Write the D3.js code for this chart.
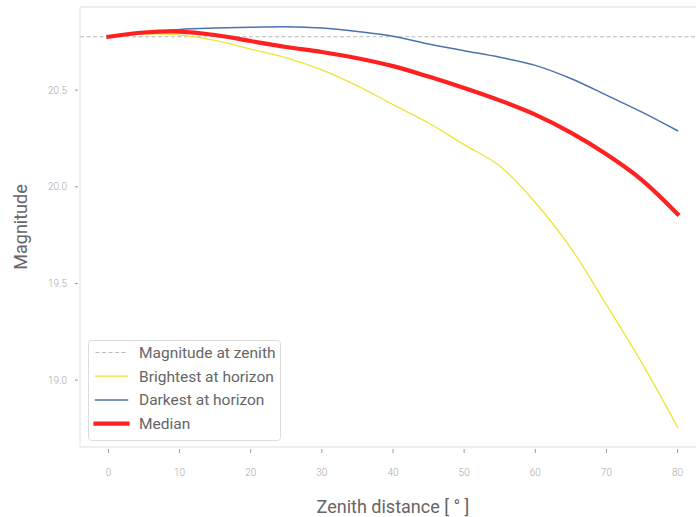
<!DOCTYPE html>
<html lang="en">
<head>
    <meta charset="UTF-8">
    <title>Magnitude vs zenith distance</title>
    <script src="https://d3js.org/d3.v7.min.js"></script>
    <style>
        body { margin: 0; padding: 0; background: #fff; }
        svg { display: block; font-family: Roboto, "DejaVu Sans", sans-serif; }
        .tick-label { fill: #aaa; font-size: 10px; font-weight: 300; }
        .axis-label { fill: #666; font-size: 18px; font-weight: 400; }
        .legend-text { fill: #666; font-size: 15.5px; font-weight: 400; }
    </style>
</head>
<body>
    <svg id="chart" width="696" height="517"></svg>

    <script>
        // zenith distance in degrees
        const zenithDeg = [0, 5, 10, 15, 20, 25, 30, 35, 40, 45, 50, 55, 60, 65, 70, 75, 80];
        const median = [20.776, 20.798, 20.803, 20.785, 20.754, 20.723, 20.697, 20.665, 20.624,
                        20.570, 20.511, 20.447, 20.373, 20.280, 20.168, 20.035, 19.859];
        const brightest = [20.776, 20.790, 20.785, 20.757, 20.712, 20.667, 20.605, 20.522, 20.425,
                           20.330, 20.218, 20.108, 19.919, 19.683, 19.390, 19.088, 18.757];
        const darkest = [20.776, 20.797, 20.814, 20.821, 20.825, 20.828, 20.821, 20.803, 20.779,
                         20.739, 20.704, 20.670, 20.628, 20.560, 20.474, 20.386, 20.290];
        const zenithMag = 20.776;
        const xTicks = [0, 10, 20, 30, 40, 50, 60, 70, 80];
        const yTicks = [19.0, 19.5, 20.0, 20.5];

        const svg = d3.select("#chart");
        const plotLeft = 80, plotRight = 706, plotTop = 7, plotBottom = 447;

        const x = d3.scaleLinear().domain([-4, 84]).range([plotLeft, plotRight]);
        const y = d3.scaleLinear().domain([18.654, 20.930]).range([plotBottom, plotTop]);

        // frame (right spine falls outside the picture)
        const frame = svg.append("g").attr("stroke", "#e8e8e8").attr("stroke-width", 1.3);
        frame.append("line").attr("x1", plotLeft).attr("x2", plotLeft).attr("y1", plotTop).attr("y2", plotBottom);
        frame.append("line").attr("x1", plotLeft).attr("x2", plotRight).attr("y1", plotBottom).attr("y2", plotBottom);
        frame.append("line").attr("x1", plotLeft).attr("x2", plotRight).attr("y1", plotTop).attr("y2", plotTop);

        // x ticks
        const gx = svg.append("g");
        xTicks.forEach(t => {
            gx.append("line").attr("x1", x(t)).attr("x2", x(t))
                .attr("y1", plotBottom + 2).attr("y2", plotBottom + 6)
                .attr("stroke", "#999").attr("stroke-width", 1);
            gx.append("text").attr("class", "tick-label")
                .attr("x", x(t)).attr("y", plotBottom + 29)
                .attr("text-anchor", "middle").text(t);
        });

        // y ticks
        const gy = svg.append("g");
        yTicks.forEach(t => {
            gy.append("line").attr("x1", plotLeft - 5).attr("x2", plotLeft - 2)
                .attr("y1", y(t)).attr("y2", y(t))
                .attr("stroke", "#999").attr("stroke-width", 1);
            gy.append("text").attr("class", "tick-label")
                .attr("x", plotLeft - 13).attr("y", y(t)).attr("dy", "0.35em")
                .attr("text-anchor", "end").text(t.toFixed(1));
        });

        // axis labels
        svg.append("text").attr("class", "axis-label")
            .attr("x", (plotLeft + plotRight) / 2).attr("y", 513)
            .attr("text-anchor", "middle").text("Zenith distance [ ° ]");
        svg.append("text").attr("class", "axis-label")
            .attr("transform", `translate(27,${(plotTop + plotBottom) / 2}) rotate(-90)`)
            .attr("text-anchor", "middle").text("Magnitude");

        // zenith reference
        svg.append("line")
            .attr("x1", plotLeft).attr("x2", plotRight)
            .attr("y1", y(zenithMag)).attr("y2", y(zenithMag))
            .attr("stroke", "#b8b8b8").attr("stroke-width", 1.1)
            .attr("stroke-dasharray", "4,2.5");

        const line = d3.line()
            .x((d, i) => x(zenithDeg[i]))
            .y(d => y(d))
            .curve(d3.curveCatmullRom.alpha(0.5));

        const series = [
            { name: "Brightest at horizon", values: brightest, color: "#ede537", width: 1.3 },
            { name: "Darkest at horizon", values: darkest, color: "#4c72b0", width: 1.5 },
            { name: "Median", values: median, color: "#ff2020", width: 4.2 }
        ];

        series.forEach(s => {
            svg.append("path")
                .attr("d", line(s.values))
                .attr("fill", "none")
                .attr("stroke", s.color)
                .attr("stroke-width", s.width)
                .attr("stroke-linecap", "square");
        });

        // legend
        const lg = svg.append("g").attr("transform", "translate(88.5,340.5)");
        lg.append("rect").attr("width", 192).attr("height", 100)
            .attr("rx", 3).attr("fill", "#fff").attr("fill-opacity", 0.8)
            .attr("stroke", "#dcdcdc").attr("stroke-width", 1);

        const items = [
            { name: "Magnitude at zenith", color: "#b8b8b8", width: 1.1, dash: "4,2.5" },
            ...series.map(s => ({ name: s.name, color: s.color, width: s.width, dash: null }))
        ];
        items.forEach((it, i) => {
            const cy = 12 + i * 23.7;
            lg.append("line").attr("x1", 7).attr("x2", 39)
                .attr("y1", cy).attr("y2", cy)
                .attr("stroke", it.color).attr("stroke-width", it.width)
                .attr("stroke-dasharray", it.dash)
                .attr("stroke-linecap", it.dash ? "butt" : "square");
            lg.append("text").attr("class", "legend-text")
                .attr("x", 50.5).attr("y", cy).attr("dy", "0.35em")
                .text(it.name);
        });
    </script>
</body>
</html>
